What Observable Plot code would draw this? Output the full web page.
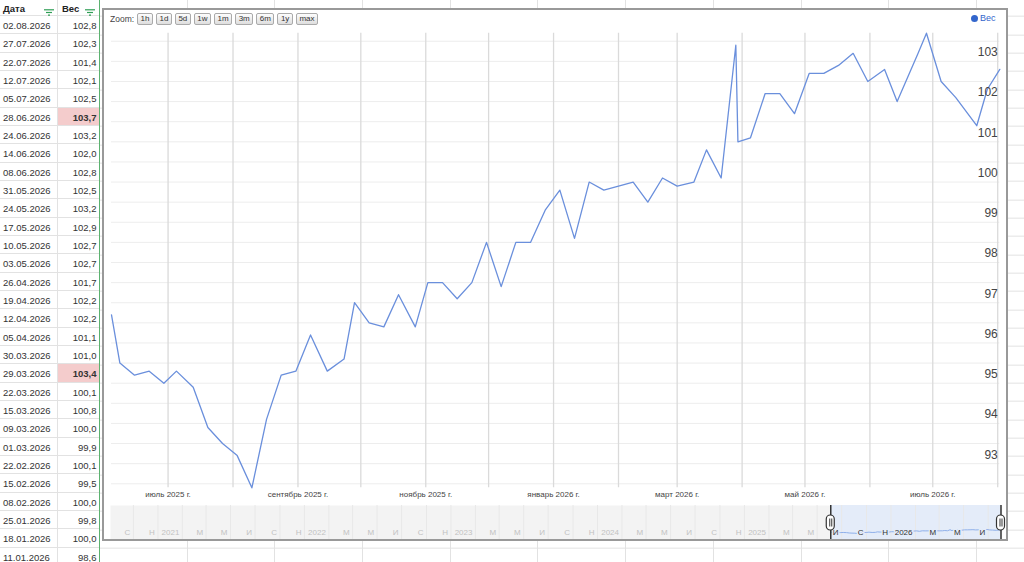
<!DOCTYPE html>
<html><head><meta charset="utf-8">
<script src="https://cdn.jsdelivr.net/npm/d3@7"></script>
<script src="https://cdn.jsdelivr.net/npm/@observablehq/plot@0.6"></script>
<style>
html,body{margin:0;padding:0;background:#fff;}
#page{position:relative;width:1024px;height:562px;overflow:hidden;font-family:Arial,"Liberation Sans",sans-serif;
 background-color:#fff;
 background-image:repeating-linear-gradient(to bottom, transparent 0 17.333px, #e2e2e2 17.333px 18.333px),
                  repeating-linear-gradient(to right, transparent 0 86.7px, #e2e2e2 86.7px 87.7px);
 background-position:0 -1.333px, 100px 0;}
#table{position:absolute;left:0;top:0;width:100px;height:562px;background:#fff;}
.cell{position:absolute;height:18.333px;line-height:19px;font-size:9.5px;color:#333;box-sizing:border-box;border-bottom:1px solid #e2e2e2;white-space:nowrap;}
.date{left:0;width:58px;padding-left:3px;border-right:1px solid #e2e2e2;}
.val{left:58px;width:41.5px;text-align:right;padding-right:3px;}
.hl{background:#f4cccc;font-weight:bold;}
.head{font-weight:bold;color:#222;}
#green{position:absolute;left:99px;top:0;width:1px;height:562px;background:#5cb270;}
.ficon{position:absolute;top:9px;}
#box{position:absolute;left:102px;top:8px;width:906px;height:533px;box-sizing:border-box;border:2px solid #999;background:#fff;}
#mainplot{position:absolute;left:104px;top:10px;}
#ovplot{position:absolute;left:104px;top:505px;}
#zoom{position:absolute;left:110px;top:13px;display:flex;align-items:center;font-size:8.5px;color:#444;}
#zoom span.b{display:inline-block;height:10px;line-height:10px;padding:0 2.5px;margin-left:3px;border:1px solid #aaa;border-radius:2px;background:linear-gradient(#fdfdfd,#dedede);color:#333;font-size:8px;}
#legend{position:absolute;left:971px;top:13px;font-size:9px;color:#3366cc;display:flex;align-items:center;}
#legend i{display:inline-block;width:7px;height:7px;border-radius:50%;background:#3366cc;margin-right:2px;}
</style></head>
<body>
<div id="page">
  <div id="table"></div>
  <div id="green"></div>
  <div id="box"></div>
  <div id="mainplot"></div>
  <div id="ovplot"></div>
  <div id="zoom"></div>
  <div id="legend"><i></i><span>Вес</span></div>
</div>
<script>
// ---------- DATA ----------
const dates = [
  "2025-06-04","2025-06-08","2025-06-15","2025-06-22","2025-06-29","2025-07-05","2025-07-13","2025-07-20",
  "2025-07-27","2025-08-03","2025-08-10","2025-08-17","2025-08-24","2025-08-31","2025-09-07","2025-09-15",
  "2025-09-23","2025-09-28","2025-10-05","2025-10-12","2025-10-19","2025-10-27","2025-11-02","2025-11-09",
  "2025-11-16","2025-11-23","2025-11-30","2025-12-07","2025-12-14","2025-12-21","2025-12-28","2026-01-04",
  "2026-01-11","2026-01-18","2026-01-25","2026-02-01","2026-02-08","2026-02-15","2026-02-22","2026-03-01",
  "2026-03-09","2026-03-15","2026-03-22","2026-03-29","2026-03-30","2026-04-05","2026-04-12","2026-04-19",
  "2026-04-26","2026-05-03","2026-05-10","2026-05-17","2026-05-24","2026-05-31","2026-06-08","2026-06-14",
  "2026-06-24","2026-06-28","2026-07-05","2026-07-12","2026-07-22","2026-07-27","2026-08-02"
];
const weights = [
  96.7,95.5,95.2,95.3,95.0,95.3,94.9,93.9,
  93.5,93.2,92.4,94.1,95.2,95.3,96.2,95.3,
  95.6,97.0,96.5,96.4,97.2,96.4,97.5,97.5,
  97.1,97.5,98.5,97.4,98.5,98.5,99.3,99.8,
  98.6,100.0,99.8,99.9,100.0,99.5,100.1,99.9,
  100.0,100.8,100.1,103.4,101.0,101.1,102.2,102.2,
  101.7,102.7,102.7,102.9,103.2,102.5,102.8,102.0,
  103.2,103.7,102.5,102.1,101.4,102.3,102.8
];
const tableFrom = "2026-01-11";
const hiddenRows = ["2026-02-01"];
const highlighted = ["2026-06-28","2026-03-29"];
const tableHeaders = ["Дата","Вес"];
const xTickDates = ["2025-07-01","2025-09-01","2025-11-01","2026-01-01","2026-03-01","2026-05-01","2026-07-01"];
const xTickLabels = ["июль 2025 г.","сентябрь 2025 г.","ноябрь 2025 г.","январь 2026 г.","март 2026 г.","май 2026 г.","июль 2026 г."];
const yTickValues = [93,94,95,96,97,98,99,100,101,102,103];
const ovLetters = ["","М","М","И","С","Н"]; // by month index / 2 (January shows the year)
const zoomButtons = ["1h","1d","5d","1w","1m","3m","6m","1y","max"];
const ovDomain = ["2020-07-06","2026-08-05"];

// ---------- BUILD ----------
const data = dates.map((d,i) => ({date: new Date(d), iso: d, weight: weights[i]}));
const first = data[0].date, last = data[data.length-1].date;
const fmtDate = d3.utcFormat("%d.%m.%Y");
const fmtVal = v => v.toFixed(1).replace(".", ",");

// table
const rowH = 18.333, row0 = 16;
const rows = data.filter(d => d.iso >= tableFrom && !hiddenRows.includes(d.iso)).sort((a,b) => b.date - a.date);
const icon = left => `<svg class="ficon" style="left:${left}px" width="10" height="7" viewBox="0 0 10 7"><g stroke="#2f9e55" stroke-width="1.2"><line x1="0" y1="0.8" x2="10" y2="0.8"/><line x1="2" y1="3.5" x2="8" y2="3.5"/><line x1="4" y1="6.2" x2="6" y2="6.2"/></g></svg>`;
let html = `<div class="cell date head" style="top:${row0-rowH}px;line-height:21px">${tableHeaders[0]}</div>` +
           `<div class="cell val head" style="top:${row0-rowH}px;text-align:left;padding-left:4px;line-height:21px">${tableHeaders[1]}</div>` +
           icon(44) + icon(85);
rows.forEach((r,i) => {
  const top = row0 + i*rowH;
  const hl = highlighted.includes(r.iso) ? " hl" : "";
  html += `<div class="cell date" style="top:${top}px">${fmtDate(r.date)}</div><div class="cell val${hl}" style="top:${top}px">${fmtVal(r.weight)}</div>`;
});
document.getElementById("table").innerHTML = html;

// zoom buttons
document.getElementById("zoom").innerHTML = "<span>Zoom:</span>" + zoomButtons.map(b => `<span class="b">${b}</span>`).join("");

const font = "Arial, 'Liberation Sans', sans-serif";
const yGrid = d3.range(92.5, 103.6, 0.5);
const monthGrid = d3.utcMonth.range(d3.utcMonth.ceil(first), d3.utcDay.offset(last, 1));
const xTicks = xTickDates.map((d,i) => ({date: new Date(d), label: xTickLabels[i]}));

const main = Plot.plot({
  width: 902, height: 495,
  marginLeft: 7, marginRight: 6.7, marginTop: 22.7, marginBottom: 17.7,
  x: {type: "utc", domain: [first, last], axis: null},
  y: {domain: d3.extent(weights), axis: null},
  style: {fontFamily: font, background: "white"},
  marks: [
    Plot.ruleY(yGrid, {stroke: "#ededed", strokeWidth: 1}),
    Plot.ruleX(monthGrid, {stroke: "#dadada", strokeWidth: 1.3}),
    Plot.line(data, {x: "date", y: "weight", stroke: "#6a8fdc", strokeWidth: 1.3}),
    Plot.text(yTickValues, {y: d => d, text: d => String(d), frameAnchor: "right", textAnchor: "end", dx: -2, dy: -9, fontSize: 12, fill: "#444"}),
    Plot.text(xTicks, {x: "date", text: "label", frameAnchor: "bottom", dy: 9, fontSize: 8, fill: "#444"})
  ]
});
document.getElementById("mainplot").appendChild(main);

// overview
const ovStart = new Date(ovDomain[0]), ovEnd = new Date(ovDomain[1]);
const ovTicks = d3.utcMonth.every(2).range(ovStart, ovEnd).map(d => ({
  date: d,
  label: d.getUTCMonth() === 0 ? String(d.getUTCFullYear()) : ovLetters[d.getUTCMonth()/2],
  inside: d >= first && d <= last
}));
const handles = [first, last];
const ov = Plot.plot({
  width: 902, height: 34,
  marginLeft: 6, marginRight: 4.3, marginTop: 0, marginBottom: 0,
  x: {type: "utc", domain: [ovStart, ovEnd], axis: null},
  y: {domain: d3.extent(weights), range: [28, 24], axis: null},
  style: {fontFamily: font, background: "white"},
  marks: [
    Plot.frame({fill: "#f3f3f3", stroke: "none"}),
    Plot.rect([{a: first, b: last}], {x1: "a", x2: "b", fill: "#e4ecf9"}),
    Plot.ruleX(ovTicks, {x: "date", stroke: "#e8e8e8", strokeWidth: 1}),
    Plot.line(data, {x: "date", y: "weight", stroke: "#8fb0ea", strokeWidth: 1}),
    Plot.text(ovTicks.filter(d => !d.inside), {x: "date", text: "label", frameAnchor: "bottom", dy: -5, dx: -3, textAnchor: "end", fontSize: 8, fill: "#c2c2c2", stroke: "#f3f3f3", strokeWidth: 3, paintOrder: "stroke"}),
    Plot.text(ovTicks.filter(d => d.inside), {x: "date", text: "label", frameAnchor: "bottom", dy: -5, dx: -3, textAnchor: "end", fontSize: 8, fill: "#333", stroke: "#e4ecf9", strokeWidth: 3, paintOrder: "stroke"}),
    Plot.ruleX(handles, {stroke: "#333", strokeWidth: 1.5}),
    Plot.rect(handles.map(d => ({a: d, b: d})), {x1: "a", x2: "b", insetLeft: -4, insetRight: -4, insetTop: 10, insetBottom: 9, rx: 4, fill: "#fff", stroke: "#333", strokeWidth: 1.2}),
    Plot.ruleX(handles, {dx: -1, insetTop: 13.5, insetBottom: 12.5, stroke: "#333", strokeWidth: 1}),
    Plot.ruleX(handles, {dx: 1, insetTop: 13.5, insetBottom: 12.5, stroke: "#333", strokeWidth: 1})
  ]
});
document.getElementById("ovplot").appendChild(ov);
</script>
</body></html>
